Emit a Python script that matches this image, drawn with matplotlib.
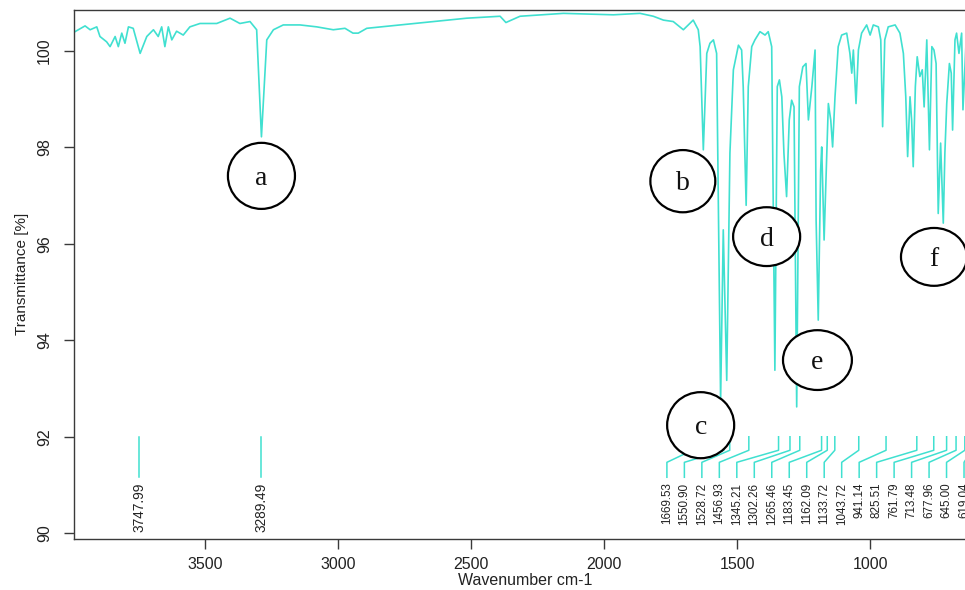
import matplotlib
matplotlib.use("Agg")
import matplotlib.pyplot as plt
from matplotlib.patches import Ellipse

plt.rcParams['font.family'] = ['Liberation Sans', 'DejaVu Sans']

# FTIR spectrum: wavenumber (cm-1) and transmittance (%)
wavenumber = [
    3990, 3952, 3933, 3908, 3896, 3871, 3858, 3839, 3827, 3814, 3802, 3789,
    3771, 3745, 3720, 3695, 3677, 3664, 3652, 3639, 3626, 3608, 3583, 3558,
    3520, 3457, 3407, 3370, 3332, 3307, 3289, 3269, 3244, 3207, 3144, 3081,
    3019, 2975, 2945, 2925, 2893, 2768, 2643, 2517, 2392, 2370, 2317, 2154,
    1966, 1866, 1816, 1778, 1741, 1703, 1666, 1647, 1640, 1628, 1615, 1603,
    1590, 1578, 1563, 1553, 1540, 1528, 1515, 1496, 1484, 1478, 1467, 1459,
    1446, 1434, 1415, 1396, 1384, 1371, 1359, 1350, 1342, 1333, 1325, 1315,
    1305, 1296, 1287, 1277, 1267, 1254, 1242, 1233, 1220, 1208, 1204, 1196,
    1187, 1183, 1174, 1164, 1158, 1149, 1142, 1133, 1121, 1108, 1089, 1077,
    1070, 1064, 1054, 1045, 1033, 1014, 1001, 989, 970, 961, 954, 946,
    933, 907, 889, 876, 867, 860, 851, 845, 839, 831, 824, 814,
    805, 798, 788, 778, 769, 761, 753, 745, 736, 726, 720, 713,
    703, 696, 691, 682, 676, 667, 657, 652, 640,
]
transmittance = [
    100.40, 100.52, 100.44, 100.50, 100.30, 100.19, 100.09, 100.30, 100.09, 100.37, 100.16, 100.50,
    100.47, 99.95, 100.30, 100.44, 100.30, 100.50, 100.09, 100.50, 100.23, 100.41, 100.33, 100.50,
    100.57, 100.57, 100.68, 100.57, 100.61, 100.44, 98.22, 100.23, 100.44, 100.54, 100.54, 100.50,
    100.44, 100.47, 100.37, 100.37, 100.47, 100.54, 100.61, 100.68, 100.72, 100.59, 100.72, 100.78,
    100.75, 100.78, 100.72, 100.64, 100.61, 100.44, 100.64, 100.44, 100.09, 97.95, 99.95, 100.16,
    100.23, 99.95, 92.75, 96.29, 93.17, 97.88, 99.61, 100.12, 100.02, 99.25, 96.80, 99.26,
    100.09, 100.23, 100.40, 100.33, 100.40, 100.09, 93.38, 99.26, 99.40, 99.05, 97.88, 96.98,
    98.57, 98.98, 98.84, 92.62, 99.26, 99.67, 99.74, 98.57, 99.26, 100.02, 96.49, 94.42,
    97.53, 98.01, 96.08, 97.88, 98.91, 98.57, 98.01, 99.05, 100.09, 100.33, 100.37, 99.95,
    99.54, 100.02, 98.91, 100.02, 100.37, 100.54, 100.33, 100.54, 100.50, 100.23, 98.43, 100.23,
    100.50, 100.54, 100.37, 99.95, 99.05, 97.81, 99.05, 98.57, 97.60, 99.26, 99.88, 99.47,
    99.61, 98.84, 100.23, 97.95, 100.09, 100.02, 99.74, 96.63, 98.09, 96.43, 97.88, 98.91,
    99.74, 99.54, 98.36, 100.23, 100.37, 99.95, 100.37, 98.78, 100.23,
]

# Picked peak positions (cm-1)
peaks_isolated = [3747.99, 3289.49]
peaks_fingerprint = [1669.53, 1550.90, 1528.72, 1456.93, 1345.21, 1302.26,
                     1265.46, 1183.45, 1162.09, 1133.72, 1043.72, 941.14,
                     825.51, 761.79, 713.48, 677.96, 645.00, 619.04]

# Band markers a-f
band_letters = ['a', 'b', 'c', 'd', 'e', 'f']
band_x = [3289, 1705, 1638, 1390, 1199, 761]
band_y = [97.41, 97.30, 92.24, 96.15, 93.59, 95.73]
band_w = [252, 244, 252, 252, 259, 248]
band_h = [1.37, 1.29, 1.37, 1.22, 1.24, 1.20]

x_ticks = [3500, 3000, 2500, 2000, 1500, 1000]
y_ticks = [90, 92, 94, 96, 98, 100]

LINE = '#40E0D0'
AX = '#3a3a3a'

fig = plt.figure(figsize=(9.65, 5.90), dpi=100)
fig.patch.set_facecolor('white')
W, H = 965.0, 590.0
ax = fig.add_axes([74 / W, (H - 539) / H, 902 / W, 529.5 / H])
ax.set_facecolor('white')

ax.plot(wavenumber, transmittance, color=LINE, lw=1.2, zorder=2)

ax.set_xlim(3993.6, 603)
ax.set_ylim(89.88, 100.86)

# Peak labels: leader tick from the 92 % level, then the rotated value
top, knee, foot, end, text_y = 92.0, 91.72, 91.47, 91.16, 91.05
for p in peaks_isolated:
    ax.plot([p, p], [top, end], color=LINE, lw=1.1, zorder=2)
    ax.text(p, text_y, f'{p:.2f}', rotation=90, ha='center', va='top',
            fontsize=9.8, color='#222222', zorder=2)

slot_gap = 65.7
slot_last = 648
n = len(peaks_fingerprint)
for i, p in enumerate(peaks_fingerprint):
    s = slot_last + slot_gap * (n - 1 - i)
    ax.plot([p, p, s, s], [top, knee, foot, end], color=LINE, lw=1.1, zorder=2)
    ax.text(s, text_y, f'{p:.2f}', rotation=90, ha='center', va='top',
            fontsize=8.4, color='#222222', zorder=2)

for lab, cx, cy, w, h in zip(band_letters, band_x, band_y, band_w, band_h):
    ax.add_patch(Ellipse((cx, cy), w, h, facecolor='white', edgecolor='black',
                         lw=1.6, zorder=4))
    ax.text(cx, cy - 0.05, lab, ha='center', va='center', fontsize=20,
            family=['Liberation Serif', 'DejaVu Serif'], color='#111111', zorder=5)

ax.set_xticks(x_ticks)
ax.set_yticks(y_ticks)
ax.set_yticklabels([str(v) for v in y_ticks])
ax.tick_params(axis='both', direction='out', length=7, width=1.0, color=AX,
               labelsize=11.5, labelcolor='#222222')
ax.tick_params(axis='x', pad=6)
ax.tick_params(axis='y', pad=9, labelrotation=90)
for lbl in ax.get_yticklabels():
    lbl.set_va('center')

for sp in ax.spines.values():
    sp.set_color(AX)
    sp.set_linewidth(1.0)

ax.set_xlabel('Wavenumber cm-1', fontsize=11.5, color='#222222')
ax.xaxis.set_label_coords(0.5, -0.079)
ax.xaxis.label.set_va('center')
ax.set_ylabel('Transmittance [%]', fontsize=11, color='#222222')
ax.yaxis.set_label_coords(-0.058, 0.5)
ax.yaxis.label.set_va('center')

fig.savefig('out.png', dpi=100, facecolor='white')
